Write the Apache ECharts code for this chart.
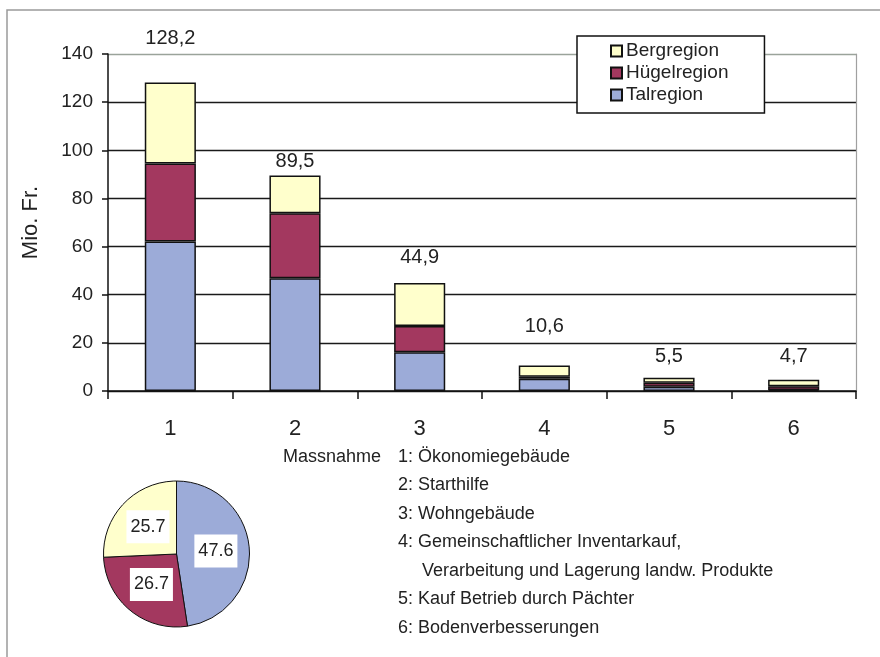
<!DOCTYPE html>
<html>
<head>
<meta charset="utf-8">
<script src="https://cdn.jsdelivr.net/npm/echarts@6/dist/echarts.min.js"></script>
<style>html,body{margin:0;padding:0;background:#fff;}#c{width:880px;height:657px;}</style>
</head>
<body>
<div id="c"></div>
<script>
const categories = ['1', '2', '3', '4', '5', '6'];
const talregion = [62.1, 46.8, 16.1, 5.1, 1.8, 0.4];
const huegelregion = [32.4, 27.0, 10.9, 0.8, 1.6, 1.6];
const bergregion = [33.7, 15.7, 17.9, 4.7, 2.1, 2.7];
const totalLabels = ['128,2', '89,5', '44,9', '10,6', '5,5', '4,7'];
const pieNames = ['Talregion', 'Hügelregion', 'Bergregion'];
const pieValues = [47.6, 26.7, 25.7];
const pieLabels = ['47.6', '26.7', '25.7'];
const yTicks = [0, 20, 40, 60, 80, 100, 120, 140];
const massnahmen = [
  '1: Ökonomiegebäude',
  '2: Starthilfe',
  '3: Wohngebäude',
  '4: Gemeinschaftlicher Inventarkauf,',
  '   Verarbeitung und Lagerung landw. Produkte',
  '5: Kauf Betrieb durch Pächter',
  '6: Bodenverbesserungen'
];

// styling only
const labelDistances = [34, 4, 15, 29, 11, 13];
const FONT = "'Liberation Sans', Arial, sans-serif";
const colors = { Talregion: '#9cabd8', 'Hügelregion': '#a3385f', Bergregion: '#ffffcc' };
const txt = '#222';

const chart = echarts.init(document.getElementById('c'), null, { renderer: 'canvas' });

const barStyle = (name) => ({ color: colors[name], borderColor: '#111', borderWidth: 1.5 });

const graphics = [
  { type: 'rect', z: -10, shape: { x: 7, y: 10, width: 900, height: 700 }, style: { fill: null, stroke: '#9a9a9a', lineWidth: 1.5 } },
  { type: 'text', left: 283, top: 458 - 10, style: { text: 'Massnahme', font: '18px ' + FONT, fill: txt } }
];
massnahmen.forEach((line, i) => {
  const indent = line.startsWith('   ');
  graphics.push({
    type: 'text',
    left: indent ? 422 : 398,
    top: 458 - 10 + i * 28.5,
    style: { text: line.trim(), font: '18px ' + FONT, fill: txt }
  });
});

const option = {
  backgroundColor: '#fff',
  animation: false,
  textStyle: { fontFamily: FONT },
  grid: { left: 108, right: 24, top: 54, bottom: 266, containLabel: false },
  legend: {
    data: ['Bergregion', 'Hügelregion', 'Talregion'],
    orient: 'vertical',
    left: 577,
    top: 36,
    backgroundColor: '#fff',
    borderColor: '#111',
    borderWidth: 1.5,
    padding: [5, 36, 8, 33],
    itemWidth: 11,
    itemHeight: 11,
    itemGap: 2,
    icon: 'rect',
    textStyle: { fontSize: 19, color: txt, fontFamily: FONT, lineHeight: 20, padding: [0, 0, 0, -1] },
    selectedMode: false
  },
  xAxis: {
    type: 'category',
    data: categories,
    boundaryGap: true,
    axisLine: { lineStyle: { color: '#111', width: 1.5 } },
    axisTick: { show: true, length: 8, lineStyle: { color: '#111', width: 1.5 } },
    axisLabel: { fontSize: 22, color: txt, margin: 27, fontFamily: FONT }
  },
  yAxis: [{
    type: 'value',
    min: 0,
    max: 140,
    interval: 20,
    name: 'Mio. Fr.',
    nameLocation: 'middle',
    nameRotate: 90,
    nameGap: 66,
    nameTextStyle: { fontSize: 22, color: txt, fontFamily: FONT },
    axisLine: { show: true, lineStyle: { color: '#111', width: 1.5 } },
    axisTick: { show: true, length: 6, lineStyle: { color: '#111', width: 1.5 } },
    axisLabel: { fontSize: 19, color: txt, margin: 15, fontFamily: FONT },
    splitLine: { show: true, lineStyle: { color: yTicks.map((v, i) => i === yTicks.length - 1 ? '#9aa39a' : '#1a1a1a'), width: 1.4 } }
  }, {
    type: 'value',
    min: 0,
    max: 140,
    interval: 20,
    position: 'right',
    axisLine: { show: true, lineStyle: { color: '#a0a0a0', width: 1.2 } },
    axisTick: { show: false },
    axisLabel: { show: false },
    splitLine: { show: false }
  }],
  series: [
    {
      name: 'Talregion', type: 'bar', stack: 'total', barWidth: '41%',
      itemStyle: barStyle('Talregion'), data: talregion
    },
    {
      name: 'Hügelregion', type: 'bar', stack: 'total', barWidth: '41%',
      itemStyle: barStyle('Hügelregion'), data: huegelregion
    },
    {
      name: 'Bergregion', type: 'bar', stack: 'total', barWidth: '41%',
      itemStyle: barStyle('Bergregion'),
      data: bergregion.map((v, i) => ({
        value: v,
        label: { show: true, position: 'top', distance: labelDistances[i], formatter: () => totalLabels[i], fontSize: 20, color: txt, fontFamily: FONT }
      }))
    },
    {
      name: 'pie', type: 'pie', center: [176.5, 554], radius: [0, 73],
      startAngle: 90, clockwise: true, silent: true,
      itemStyle: { borderColor: '#111', borderWidth: 1 },
      label: {
        show: true, position: 'inside', backgroundColor: '#fff', color: txt,
        fontSize: 18, fontFamily: FONT, padding: [8, 4, 7, 4],
        formatter: (p) => pieLabels[p.dataIndex]
      },
      labelLine: { show: false },
      data: pieNames.map((n, i) => ({ name: n, value: pieValues[i], itemStyle: { color: colors[n] } }))
    }
  ],
  graphic: graphics
};
chart.setOption(option);
</script>
</body>
</html>
